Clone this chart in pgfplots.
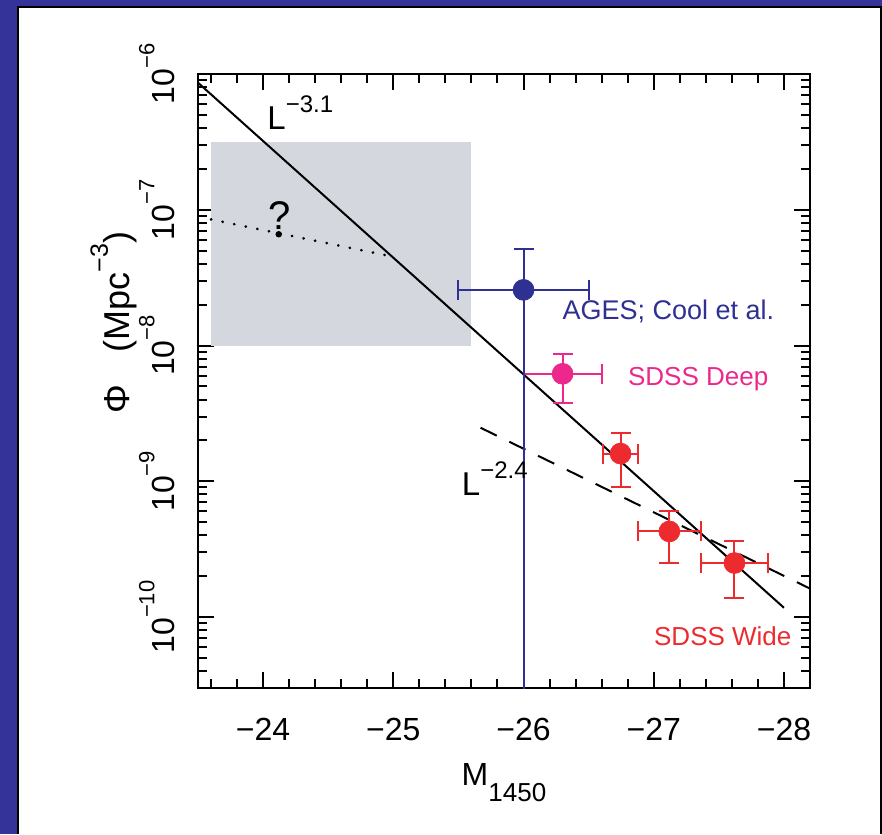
\documentclass[border=0pt]{standalone}
\usepackage{fontspec}
\setmainfont{Liberation Sans}
\usepackage{pgfplots}
\pgfplotsset{compat=1.18}

\definecolor{frameblue}{RGB}{51,51,153}
\definecolor{agesblue}{RGB}{46,49,146}
\definecolor{deeppink}{RGB}{236,40,140}
\definecolor{widered}{RGB}{237,43,46}
\definecolor{boxgrey}{RGB}{212,215,221}

% raised (or lowered) text in its own size: \up{raise}{size}{text}
\newcommand{\up}[3]{\raisebox{#1}{\fontsize{#2}{#2}\selectfont #3}}

\begin{document}
\begin{tikzpicture}
\useasboundingbox (0,0) rectangle (441pt,417pt);
% slide frame
\fill[frameblue] (0,0) rectangle (8.4pt,417pt);
\fill[frameblue] (0,414pt) rectangle (441pt,417pt);
\fill[black] (8.4pt,0) rectangle (9.5pt,414pt);
\fill[black] (8.4pt,413pt) rectangle (441pt,414pt);
\fill[black] (440pt,0) rectangle (441pt,414pt);

\begin{axis}[
    at={(99pt,73pt)}, anchor=south west,
    scale only axis, width=306pt, height=307pt,
    x dir=reverse, xmin=-28.2, xmax=-23.5,
    ymode=log, log basis y=10, ymin=3e-11, ymax=1e-6,
    xtick={-24,-25,-26,-27,-28},
    xticklabels={−24,−25,−26,−27,−28},
    minor xtick={-23.6,-23.8,-24.2,-24.4,-24.6,-24.8,-25.2,-25.4,-25.6,-25.8,
                 -26.2,-26.4,-26.6,-26.8,-27.2,-27.4,-27.6,-27.8},
    ytick={1e-10,1e-9,1e-8,1e-7,1e-6},
    yticklabels={10\up{0.62em}{11}{−10},10\up{0.62em}{11}{−9},10\up{0.62em}{11}{−8},
                 10\up{0.62em}{11}{−7},10\up{0.62em}{11}{−6}},
    minor ytick={4e-11,5e-11,6e-11,7e-11,8e-11,9e-11,
                 2e-10,3e-10,4e-10,5e-10,6e-10,7e-10,8e-10,9e-10,
                 2e-9,3e-9,4e-9,5e-9,6e-9,7e-9,8e-9,9e-9,
                 2e-8,3e-8,4e-8,5e-8,6e-8,7e-8,8e-8,9e-8,
                 2e-7,3e-7,4e-7,5e-7,6e-7,7e-7,8e-7,9e-7},
    tick align=inside,
    major tick length=8pt, minor tick length=4.5pt,
    major tick style={line width=1pt, black},
    minor tick style={line width=1pt, black},
    axis line style={line width=1pt},
    tick label style={font=\fontsize{16}{19}\selectfont},
    xticklabel style={anchor=north, inner sep=0pt},
    xticklabel shift=15pt,
    yticklabel style={rotate=90, anchor=south, inner sep=0pt},
    yticklabel shift=11.5pt,
    xlabel={M\up{-8pt}{13}{1450}},
    xlabel style={at={(axis description cs:0.5,-0.158)}, anchor=base,
                  font=\fontsize{16}{19}\selectfont},
    ylabel={Φ\hspace{0.9em}(Mpc\up{0.6em}{12.5}{−3})},
    ylabel style={at={(axis description cs:-0.112,0.595)}, anchor=base,
                  font=\fontsize{18}{21}\selectfont},
]

% region still unconstrained
\addplot[draw=none, fill=boxgrey] coordinates
    {(-23.6,1e-8) (-25.6,1e-8) (-25.6,3.16e-7) (-23.6,3.16e-7)} -- cycle;

% L^-3.1
\addplot[black, line width=1pt] coordinates {(-23.5,8.63e-7) (-28.0,1.17e-10)};
% dotted guess
\addplot[black, line width=1.4pt, line cap=round, dash pattern=on 0.1pt off 5.8pt]
    coordinates {(-23.6,8.49e-8) (-24.97,4.57e-8)};
\addplot[only marks, mark=*, mark size=1.4pt, black] coordinates {(-24.12,6.6e-8)};
% L^-2.4
\addplot[black, line width=1pt, dash pattern=on 9pt off 7pt]
    coordinates {(-25.67,2.48e-9) (-28.2,1.62e-10)};

% SDSS Deep
\addplot[only marks, mark=*, mark size=5.2pt, deeppink,
    error bars/.cd, x dir=both, x explicit, y dir=both, y explicit,
    error bar style={line width=1pt, deeppink},
    error mark options={rotate=90, deeppink, line width=1pt, mark size=5pt}]
    coordinates {(-26.30,6.19e-9) +- (0.3,2.44e-9)};

% SDSS Wide
\addplot[only marks, mark=*, mark size=5.2pt, widered,
    error bars/.cd, x dir=both, x explicit, y dir=both, y explicit,
    error bar style={line width=1pt, widered},
    error mark options={rotate=90, widered, line width=1pt, mark size=5pt}]
    coordinates {
    (-26.745,1.60e-9) +- (0.135,0.685e-9)
    (-27.12,4.27e-10) +- (0.24,1.76e-10)
    (-27.62,2.50e-10) +- (0.255,1.12e-10)
    };

% AGES (lower error runs off the bottom)
\addplot[only marks, mark=*, mark size=5.2pt, agesblue,
    error bars/.cd, x dir=both, x explicit, y dir=both, y explicit,
    error bar style={line width=1pt, agesblue},
    error mark options={rotate=90, agesblue, line width=1pt, mark size=5pt}]
    coordinates {(-26.0,2.57e-8) += (0.5,2.61e-8) -= (0.5,2.5699e-8)};

\node[anchor=base west, inner sep=0pt, font=\fontsize{16.5}{19}\selectfont]
    at (axis cs:-24.03,3.9e-7) {L\up{8.5pt}{12}{−3.1}};
\node[inner sep=0pt, font=\fontsize{20}{22}\selectfont]
    at (axis cs:-24.125,9.0e-8) {?};
\node[anchor=base west, inner sep=0pt, font=\fontsize{16.5}{19}\selectfont]
    at (axis cs:-25.524,7.9e-10) {L\up{8.5pt}{12}{−2.4}};
\node[anchor=base west, inner sep=0pt, text=agesblue, font=\fontsize{13.5}{16}\selectfont]
    at (axis cs:-26.297,1.55e-8) {AGES; Cool et al.};
\node[anchor=base west, inner sep=0pt, text=deeppink, font=\fontsize{13}{16}\selectfont]
    at (axis cs:-26.80,5.06e-9) {SDSS Deep};
\node[anchor=base west, inner sep=0pt, text=widered, font=\fontsize{13}{16}\selectfont]
    at (axis cs:-27.0,6.18e-11) {SDSS Wide};
\end{axis}
\end{tikzpicture}
\end{document}
